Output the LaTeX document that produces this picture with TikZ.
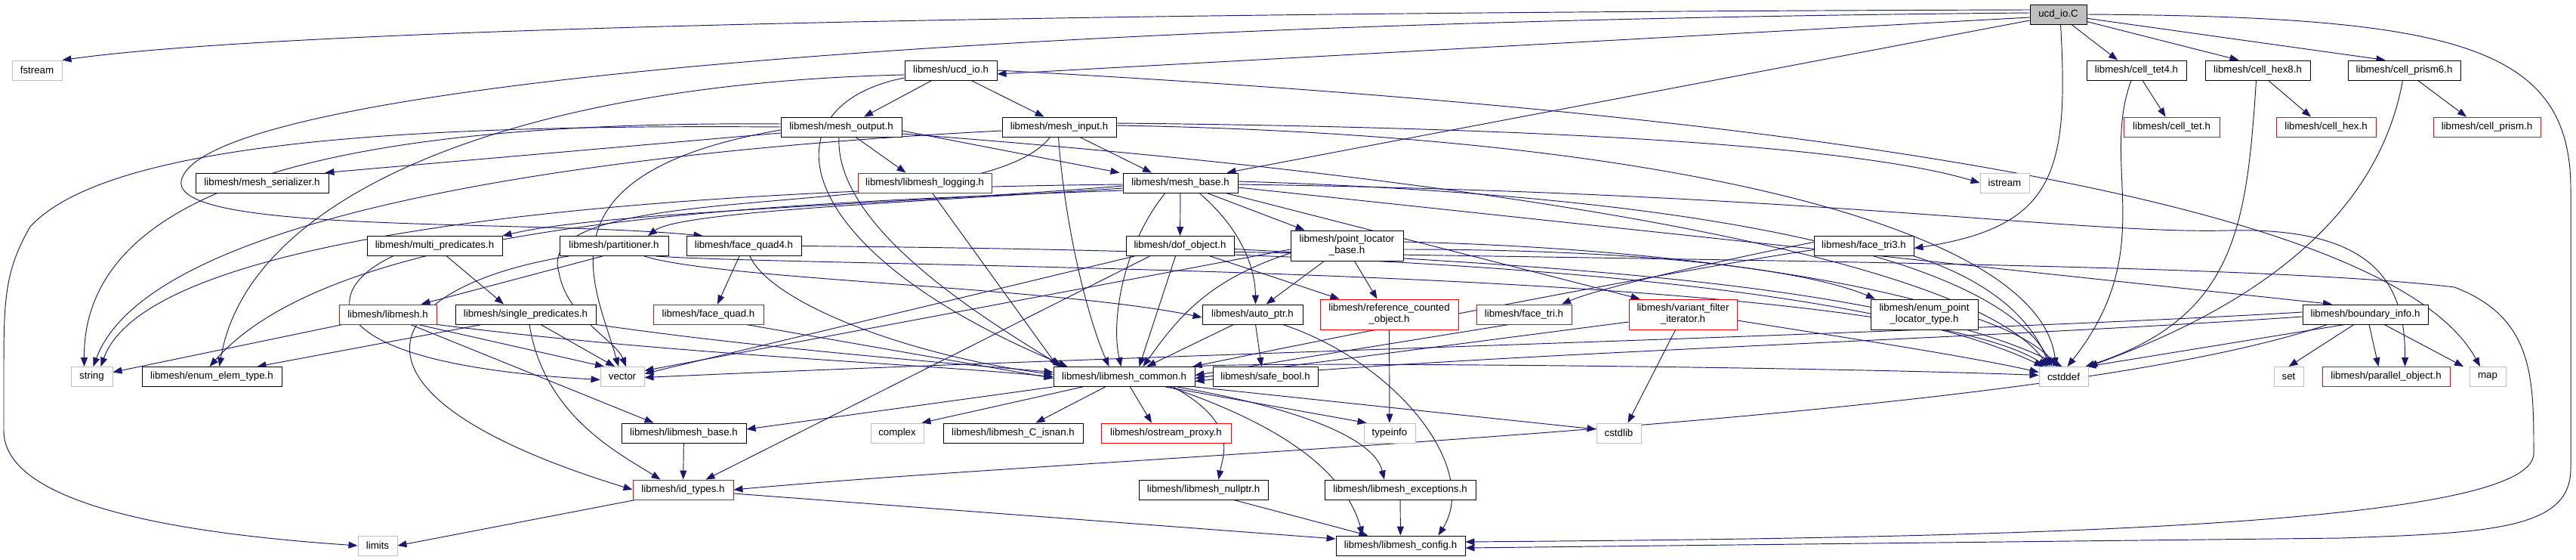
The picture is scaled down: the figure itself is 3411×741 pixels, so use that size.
\documentclass[tikz,border=0pt]{standalone}
\usepackage{fontspec}
\setmainfont{Liberation Sans}
\usetikzlibrary{arrows.meta}
\pgfdeclarelayer{edgelayer}
\pgfsetlayers{edgelayer,main}
\definecolor{edgec}{HTML}{191970}
\definecolor{grayb}{HTML}{BFBFBF}
\begin{document}
\begin{tikzpicture}[x=1pt,y=-1pt,
  box/.style={draw=black, line width=0.9pt, fill=white, inner sep=0pt, font=\fontsize{13.3}{15}\selectfont, align=center},
  redbox/.style={box, draw=red},
  sysbox/.style={box, draw=grayb},
  edge/.style={draw=edgec, line width=0.95pt, -{Triangle[length=12pt,width=9pt]}}]
\begin{pgfonlayer}{edgelayer}
\useasboundingbox[fill=white] (0,0) rectangle (3411,741);
\end{pgfonlayer}
% row 1
\node[box, fill=grayb, minimum width=75pt, minimum height=26pt] (ucdC) at (2725.5,19) {ucd\_io.C};
% row 2
\node[sysbox, minimum width=66pt, minimum height=26pt] (fstream) at (49,93) {fstream};
\node[box, minimum width=122pt, minimum height=26pt] (ucdh) at (1259,93) {libmesh/ucd\_io.h};
\node[box, minimum width=132pt, minimum height=26pt] (tet4) at (2829,93) {libmesh/cell\_tet4.h};
\node[box, minimum width=139pt, minimum height=26pt] (hex8) at (2989.5,93) {libmesh/cell\_hex8.h};
\node[box, minimum width=149pt, minimum height=26pt] (prism6) at (3183.5,93) {libmesh/cell\_prism6.h};
% row 3
\node[box, minimum width=160pt, minimum height=26pt] (meshout) at (1114,168) {libmesh/mesh\_output.h};
\node[box, minimum width=151pt, minimum height=26pt] (meshin) at (1402.5,168) {libmesh/mesh\_input.h};
\node[redbox, minimum width=127pt, minimum height=26pt] (celltet) at (2875.5,168) {libmesh/cell\_tet.h};
\node[redbox, minimum width=132pt, minimum height=26pt] (cellhex) at (3080,168) {libmesh/cell\_hex.h};
\node[redbox, minimum width=142pt, minimum height=26pt] (cellprism) at (3293,168) {libmesh/cell\_prism.h};
% row 4
\node[box, minimum width=176pt, minimum height=26pt] (serializer) at (347,242) {libmesh/mesh\_serializer.h};
\node[redbox, minimum width=177pt, minimum height=26pt] (logging) at (1224.5,242) {libmesh/libmesh\_logging.h};
\node[box, minimum width=152pt, minimum height=26pt] (meshbase) at (1563,242) {libmesh/mesh\_base.h};
\node[sysbox, minimum width=65pt, minimum height=26pt] (istream) at (2654.5,242) {istream};
% row 5
\node[box, minimum width=179pt, minimum height=26pt] (multipred) at (575.5,325.5) {libmesh/multi\_predicates.h};
\node[box, minimum width=144pt, minimum height=26pt] (partitioner) at (813,325.5) {libmesh/partitioner.h};
\node[box, minimum width=152pt, minimum height=26pt] (quad4) at (985,325.5) {libmesh/face\_quad4.h};
\node[box, minimum width=143pt, minimum height=26pt] (dof) at (1562.5,325.5) {libmesh/dof\_object.h};
\node[box, minimum width=149pt, minimum height=40pt] (plb) at (1783.5,325) {libmesh/point\_locator\\\_base.h};
\node[box, minimum width=132pt, minimum height=26pt] (tri3) at (2468,325.5) {libmesh/face\_tri3.h};
% row 6
\node[redbox, minimum width=129pt, minimum height=26pt] (libmeshh) at (513.5,416) {libmesh/libmesh.h};
\node[box, minimum width=186pt, minimum height=26pt] (singlepred) at (696,416) {libmesh/single\_predicates.h};
\node[redbox, minimum width=146pt, minimum height=26pt] (facequad) at (938,416) {libmesh/face\_quad.h};
\node[box, minimum width=133pt, minimum height=26pt] (autoptr) at (1658.5,416) {libmesh/auto\_ptr.h};
\node[redbox, minimum width=183pt, minimum height=40pt] (refcount) at (1839.5,416) {libmesh/reference\_counted\\\_object.h};
\node[redbox, minimum width=126pt, minimum height=26pt] (facetri) at (2018,416) {libmesh/face\_tri.h};
\node[redbox, minimum width=143pt, minimum height=40pt] (variant) at (2228.5,416) {libmesh/variant\_filter\\\_iterator.h};
\node[box, minimum width=142pt, minimum height=40pt] (enumpl) at (2548,416) {libmesh/enum\_point\\\_locator\_type.h};
\node[box, minimum width=166pt, minimum height=26pt] (boundary) at (3132,416) {libmesh/boundary\_info.h};
% row 7
\node[sysbox, minimum width=55pt, minimum height=26pt] (string) at (121.5,498.5) {string};
\node[box, minimum width=185pt, minimum height=26pt] (enumelem) at (280.5,498.5) {libmesh/enum\_elem\_type.h};
\node[sysbox, minimum width=58pt, minimum height=26pt] (vector) at (824,498.5) {vector};
\node[box, minimum width=187pt, minimum height=26pt] (common) at (1488.5,498.5) {libmesh/libmesh\_common.h};
\node[box, minimum width=139pt, minimum height=26pt] (safebool) at (1675.5,498.5) {libmesh/safe\_bool.h};
\node[sysbox, minimum width=65pt, minimum height=26pt] (cstddef) at (2732.5,498.5) {cstddef};
\node[sysbox, minimum width=39pt, minimum height=26pt] (set) at (3030.5,498.5) {set};
\node[redbox, minimum width=169pt, minimum height=26pt] (parallel) at (3159.5,498.5) {libmesh/parallel\_object.h};
\node[sysbox, minimum width=48pt, minimum height=26pt] (map) at (3294,498.5) {map};
% row 8
\node[sysbox, minimum width=70pt, minimum height=26pt] (complex) at (1188,573) {complex};
\node[box, minimum width=185pt, minimum height=26pt] (isnan) at (1341.5,573) {libmesh/libmesh\_C\_isnan.h};
\node[redbox, minimum width=172pt, minimum height=26pt] (ostream) at (1544,573) {libmesh/ostream\_proxy.h};
\node[sysbox, minimum width=68pt, minimum height=26pt] (typeinfo) at (1840,573) {typeinfo};
\node[sysbox, minimum width=59pt, minimum height=26pt] (cstdlib) at (2143.5,573) {cstdlib};
\node[box, minimum width=165pt, minimum height=26pt] (libmeshbase) at (905.5,573) {libmesh/libmesh\_base.h};
% row 9
\node[redbox, minimum width=133pt, minimum height=26pt] (idtypes) at (904.5,648) {libmesh/id\_types.h};
\node[box, minimum width=171pt, minimum height=26pt] (nullptr) at (1593.5,648) {libmesh/libmesh\_nullptr.h};
\node[box, minimum width=200pt, minimum height=26pt] (exceptions) at (1854,648) {libmesh/libmesh\_exceptions.h};
% row 10
\node[box, minimum width=171pt, minimum height=26pt] (config) at (1854.5,722) {libmesh/libmesh\_config.h};
\node[sysbox, minimum width=52pt, minimum height=26pt] (limits) at (500,722) {limits};

\begin{pgfonlayer}{edgelayer}
% ---- edges from ucd_io.C
\draw[edge] ([yshift=6pt]ucdC.west) .. controls (1500,16) and (400,35) .. (fstream.north east);
\draw[edge] ([yshift=-4pt]ucdC.west) -- ([yshift=-5pt]ucdh.east);
\draw[edge] ([yshift=-8pt]ucdC.west) -- ([xshift=-15pt]meshbase.north east);
\draw[edge] ([yshift=2pt]ucdC.west) .. controls (1200,30) and (260,120) .. (240,240) .. controls (230,310) and (700,290) .. ([xshift=22pt]quad4.north west);
\draw[edge] ([xshift=3pt]ucdC.south) .. controls (2740,230) and (2720,300) .. ([yshift=-3pt]tri3.east);
\draw[edge] (ucdC) -- ([xshift=-25pt]tet4.north);
\draw[edge] (ucdC) -- ([xshift=-25pt]hex8.north);
\draw[edge] (ucdC) -- ([xshift=-25pt]prism6.north);
\draw[edge] (ucdC.east) .. controls (3250,22) and (3404,60) .. (3404,250) -- (3404,620) .. controls (3404,700) and (3300,705) .. (3100,712) -- ([yshift=-3pt]config.east);
% ---- cells
\draw[edge] ([xshift=8pt]tet4.south) -- ([xshift=-8pt]celltet.north);
\draw[edge] ([xshift=-7pt]tet4.south) .. controls (2780,220) and (2860,330) .. ([xshift=5pt]cstddef.north);
\draw[edge] ([xshift=14pt]hex8.south) -- ([xshift=-20pt]cellhex.north);
\draw[edge] ([xshift=-2pt]hex8.south) .. controls (2975,300) and (2960,420) .. ([xshift=-4pt]cstddef.north east);
\draw[edge] ([xshift=18pt]prism6.south) -- ([xshift=-27pt]cellprism.north);
\draw[edge] ([xshift=-2pt]prism6.south) .. controls (3150,280) and (3000,400) .. (cstddef.north east);
% ---- ucd_io.h
\draw[edge] (ucdh) -- ([xshift=30pt]meshout.north);
\draw[edge] (ucdh) -- ([xshift=-20pt]meshin.north);
\draw[edge] ([yshift=-6pt]ucdh.west) .. controls (700,110) and (330,250) .. ([xshift=10pt]enumelem.north);
\draw[edge] ([yshift=-10pt]ucdh.west) .. controls (1010,140) and (1040,330) .. ([xshift=-75pt]common.north);
\draw[edge] (ucdh.east) .. controls (2200,140) and (3150,240) .. ([xshift=-10pt]map.north);
% ---- mesh_output.h
\draw[edge] (meshout) -- ([xshift=-25pt]logging.north);
\draw[edge] ([yshift=-5pt]meshout.east) -- ([xshift=-4pt]meshbase.north west);
\draw[edge] ([yshift=-8pt]meshout.west) -- ([xshift=-5pt]serializer.north east);
\draw[edge] ([xshift=-3pt]meshout.south) .. controls (1105,300) and (1300,420) .. ([xshift=-82pt]common.north);
\draw[edge] ([yshift=-9pt]meshout.east) .. controls (1900,230) and (2600,330) .. ([xshift=-20pt]cstddef.north);
\draw[edge] (meshout.west) .. controls (600,165) and (150,180) .. (40,300) .. controls (5,360) and (5,400) .. (5,500) -- (5,570) .. controls (5,680) and (300,710) .. (limits.west);
\draw[edge] ([yshift=4pt]meshout.west) .. controls (500,160) and (110,230) .. ([xshift=-10pt]string.north);
\draw[edge] ([yshift=-4pt]meshout.west) .. controls (700,230) and (790,380) .. ([xshift=-5pt]vector.north);
% ---- mesh_input.h
\draw[edge] (meshin) -- ([xshift=-38pt]meshbase.north);
\draw[edge] ([xshift=-1pt]meshin.south) .. controls (1410,300) and (1440,420) .. ([xshift=-20pt]common.north);
\draw[edge] ([xshift=-12pt]meshin.south) .. controls (1300,300) and (700,230) .. (740,360) .. controls (750,420) and (815,450) .. ([xshift=5pt]vector.north);
\draw[edge] ([yshift=-5pt]meshin.west) .. controls (800,200) and (200,280) .. ([xshift=2pt]string.north);
\draw[edge] ([yshift=5pt]meshin.east) .. controls (2000,168) and (2450,190) .. (istream.west);
\draw[edge] ([yshift=2pt]meshin.east) .. controls (2200,178) and (2700,300) .. ([xshift=-10pt]cstddef.north);
% ---- logging
\draw[edge] ([xshift=10pt]logging.south) -- ([xshift=-88pt]common.north);
% ---- mesh_base.h
\draw[edge] (meshbase) -- (dof);
\draw[edge] ([xshift=25pt]meshbase.south) .. controls (1640,300) and (1662,350) .. ([xshift=4pt]autoptr.north);
\draw[edge] (meshbase) -- ([xshift=-56pt]plb.north);
\draw[edge] ([xshift=60pt]meshbase.south) -- ([xshift=-57pt]variant.north);
\draw[edge] ([xshift=-20pt]meshbase.south) .. controls (1490,320) and (1470,420) .. ([xshift=-4pt]common.north);
\draw[edge] ([yshift=-4pt]meshbase.west) .. controls (1200,270) and (800,280) .. (multipred.north east);
\draw[edge] ([yshift=-7pt]meshbase.west) .. controls (1200,268) and (900,280) .. ([xshift=45pt]partitioner.north);
\draw[edge] ([yshift=-10pt]meshbase.west) .. controls (1000,270) and (450,290) .. ([xshift=-3pt]enumelem.north);
\draw[edge] ([yshift=-2pt]meshbase.west) .. controls (900,250) and (200,300) .. ([xshift=12pt]string.north);
\draw[edge] ([yshift=-6pt]meshbase.east) -- ([xshift=-44pt]boundary.north);
\draw[edge] ([yshift=-2pt]meshbase.east) .. controls (2400,255) and (2750,310) .. (2950,305) .. controls (3150,300) and (3185,380) .. ([xshift=25pt]parallel.north);
\draw[edge] ([yshift=2pt]meshbase.east) .. controls (2300,260) and (2650,350) .. ([xshift=-15pt]cstddef.north);
% ---- predicates
\draw[edge] (multipred) -- ([xshift=-29pt]singlepred.north);
\draw[edge] ([xshift=-55pt]multipred.south) .. controls (430,380) and (400,480) .. ([yshift=-4pt]vector.west);
\draw[edge] ([xshift=-58pt]singlepred.south) -- ([xshift=60pt]enumelem.north);
\draw[edge] ([xshift=5pt]singlepred.south) .. controls (720,550) and (820,600) .. ([xshift=-30pt]idtypes.north);
\draw[edge] ([xshift=20pt]singlepred.south) -- ([xshift=-10pt]vector.north);
\draw[edge] (singlepred.south east) .. controls (1000,460) and (1250,480) .. ([yshift=6pt]common.west);
% ---- partitioner
\draw[edge] ([xshift=-15pt]partitioner.south) -- ([xshift=44pt]libmeshh.north);
\draw[edge] ([xshift=40pt]partitioner.south) .. controls (950,370) and (1400,380) .. ([yshift=-4pt]autoptr.west);
\draw[edge] ([xshift=-60pt]partitioner.south) .. controls (500,380) and (420,520) .. (idtypes.west);
\draw[edge] ([xshift=55pt]partitioner.south) .. controls (1100,355) and (2500,350) .. ([xshift=-22pt]cstddef.north);
% ---- face_quad4 / face_quad
\draw[edge] ([xshift=-6pt]quad4.south) -- ([xshift=12pt]facequad.north);
\draw[edge] ([xshift=8pt]quad4.south) .. controls (1020,400) and (1200,470) .. ([yshift=3pt]common.west);
\draw[edge] (quad4.east) .. controls (1500,330) and (2400,340) .. ([xshift=-27pt]cstddef.north);
\draw[edge] ([xshift=50pt]facequad.south) -- ([yshift=-2pt]common.west);
% ---- dof_object
\draw[edge] ([xshift=40pt]dof.south) -- ([xshift=-66pt]refcount.north);
\draw[edge] ([xshift=-6pt]dof.south) -- ([xshift=20pt]common.north);
\draw[edge] ([xshift=-40pt]dof.south) -- ([xshift=30pt]idtypes.north);
\draw[edge] ([xshift=-60pt]dof.south) -- ([yshift=4pt]vector.east);
\draw[edge] ([yshift=-4pt]dof.east) .. controls (2000,350) and (2500,370) .. ([xshift=-2pt]cstddef.north);
\draw[edge] ([yshift=-8pt]dof.east) .. controls (2300,345) and (3000,350) .. (3250,380) .. controls (3355,420) and (3355,500) .. (3355,600) .. controls (3355,700) and (2600,712) .. ([yshift=5pt]config.east);
% ---- point_locator_base
\draw[edge] ([xshift=-30pt]plb.south) -- ([xshift=18pt]autoptr.north);
\draw[edge] ([xshift=10pt]plb.south) -- ([xshift=-16pt]refcount.north);
\draw[edge] ([yshift=-10pt]plb.west) .. controls (1600,370) and (1560,420) .. ([xshift=25pt]common.north);
\draw[edge] ([yshift=-5pt]plb.west) -- ([yshift=8pt]vector.east);
\draw[edge] ([yshift=-5pt]plb.east) .. controls (2200,330) and (2400,360) .. ([xshift=-65pt]enumpl.north);
\draw[edge] ([yshift=5pt]plb.east) .. controls (2300,330) and (2650,400) .. ([xshift=-8pt]cstddef.north);
% ---- face_tri3 / face_tri
\draw[edge] ([yshift=5pt]tri3.west) .. controls (2300,340) and (2120,380) .. ([xshift=50pt]facetri.north);
\draw[edge] ([yshift=-5pt]tri3.west) .. controls (2200,360) and (1700,460) .. ([xshift=-3pt]common.north east);
\draw[edge] (tri3.south east) .. controls (2600,360) and (2680,400) .. ([xshift=-18pt]cstddef.north);
\draw[edge] ([xshift=-20pt]facetri.south) -- ([yshift=2pt]common.east);
% ---- variant / refcount
\draw[edge] ([yshift=-10pt]variant.west) -- ([yshift=-2pt]common.east);
\draw[edge] ([xshift=-10pt]variant.south) -- ([xshift=12pt]cstdlib.north);
\draw[edge] ([yshift=-8pt]variant.east) .. controls (2400,440) and (2600,470) .. ([yshift=6pt]cstddef.west);
\draw[edge] (refcount) -- (typeinfo);
% ---- boundary_info
\draw[edge] ([xshift=-50pt]boundary.south) .. controls (2700,560) and (1500,600) .. (idtypes.east);
\draw[edge] ([yshift=3pt]boundary.west) .. controls (2600,440) and (1500,470) .. ([yshift=-1pt]vector.east);
\draw[edge] ([yshift=-3pt]boundary.west) .. controls (2600,450) and (1900,470) .. ([yshift=-6pt]common.east);
\draw[edge] ([xshift=-27pt]boundary.south) -- ([xshift=-2pt]cstddef.north east);
\draw[edge] ([xshift=-15pt]boundary.south) -- (set.north);
\draw[edge] ([xshift=5pt]boundary.south) -- ([xshift=-10pt]parallel.north);
\draw[edge] ([xshift=25pt]boundary.south) -- ([xshift=-32pt]map.north);
% ---- libmesh.h
\draw[edge] ([xshift=-60pt]libmeshh.south) -- ([yshift=6pt]string.east);
\draw[edge] ([xshift=30pt]libmeshh.south) -- ([xshift=-40pt]libmeshbase.north);
\draw[edge] ([xshift=40pt]libmeshh.south) -- ([xshift=-24pt]vector.north);
\draw[edge] (libmeshh.south east) .. controls (900,470) and (1200,480) .. (common.west);
% ---- auto_ptr
\draw[edge] ([xshift=-25pt]autoptr.south) -- ([xshift=30pt]common.north);
\draw[edge] ([xshift=4pt]autoptr.south) -- ([xshift=-5pt]safebool.north);
\draw[edge] ([xshift=40pt]autoptr.south) .. controls (1850,480) and (1960,620) .. ([xshift=50pt]config.north);
% ---- libmesh_common
\draw[edge] (common.south west) -- ([yshift=5pt]libmeshbase.east);
\draw[edge] ([xshift=-55pt]common.south) -- ([xshift=-3pt]complex.north east);
\draw[edge] ([xshift=-25pt]common.south) -- ([xshift=30pt]isnan.north);
\draw[edge] ([xshift=8pt]common.south) -- ([xshift=-19pt]ostream.north);
\draw[edge] ([xshift=55pt]common.south) -- ([xshift=4pt]typeinfo.north west);
\draw[edge] (common.south east) -- ([yshift=5pt]cstdlib.west);
\draw[edge] ([xshift=65pt]common.south) .. controls (1640,560) and (1620,600) .. ([xshift=20pt]nullptr.north);
\draw[edge] ([xshift=70pt]common.south) .. controls (1720,540) and (1820,580) .. ([xshift=-21pt]exceptions.north);
\draw[edge] ([xshift=60pt]common.south) .. controls (1690,560) and (1780,620) .. ([xshift=-50pt]config.north);
\draw[edge] ([xshift=-4pt]common.north east) .. controls (1650,478) and (2400,485) .. ([yshift=2pt]cstddef.west);
% ---- bottom
\draw[edge] (libmeshbase) -- (idtypes);
\draw[edge] ([xshift=4pt]idtypes.south west) -- (limits.east);
\draw[edge] ([yshift=-5pt]idtypes.east) -- ([yshift=9pt]config.west);
\draw[edge] ([xshift=40pt]nullptr.south) -- ([xshift=-43pt]config.north);
\draw[edge] (exceptions) -- (config);
\end{pgfonlayer}
\end{tikzpicture}
\end{document}
